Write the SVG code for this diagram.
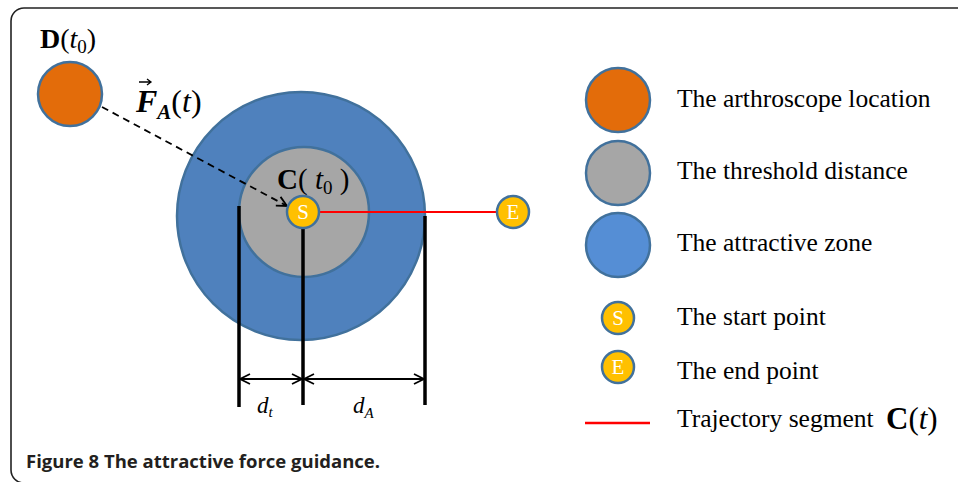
<svg xmlns="http://www.w3.org/2000/svg" width="958" height="482" viewBox="0 0 958 482">
<defs>
<style>
.serif{font-family:"Liberation Serif","Times New Roman",serif;fill:#000}
.leg{font-size:25.5px}
.node{stroke:#41719C;stroke-width:2.5}
.pt{fill:#FFC000;stroke:#41719C;stroke-width:2.5}
.ptxt{font-family:"Liberation Serif",serif;font-size:21px;fill:#fff;text-anchor:middle}
.vline{stroke:#000;stroke-width:3.5}
.dim{stroke:#000;stroke-width:1.8;fill:none}
</style>
<marker id="open" viewBox="0 0 12 12" refX="11" refY="6" markerWidth="12" markerHeight="12" markerUnits="userSpaceOnUse" orient="auto-start-reverse">
<path d="M1,1 L11,6 L1,11" fill="none" stroke="#000" stroke-width="1.8"/>
</marker>
</defs>
<rect width="958" height="482" fill="#fff"/>
<rect x="11" y="8" width="980" height="475" rx="13" ry="13" fill="none" stroke="#222" stroke-width="1.6"/>

<g id="zone">
<circle cx="301" cy="216" r="124" fill="#4F81BD" stroke="#41719C" stroke-width="2.5"/>
</g>
<g id="threshold">
<circle cx="304" cy="212" r="65" fill="#A6A6A6" stroke="#41719C" stroke-width="2.5"/>
</g>
<g id="D">
<circle cx="70" cy="94" r="32" fill="#E36C0A" class="node"/>
<text class="serif" x="40" y="48" font-size="28"><tspan font-weight="bold">D</tspan>(<tspan font-style="italic">t</tspan><tspan font-size="19" dy="5">0</tspan><tspan dy="-5">)</tspan></text>
</g>

<g id="connectors">
<line x1="102" y1="107" x2="287" y2="206" stroke="#000" stroke-width="1.8" stroke-dasharray="7,5" marker-end="url(#open)"/>
<line x1="319" y1="212" x2="497" y2="212" stroke="#FF0000" stroke-width="2"/>
<line class="vline" x1="239" y1="206" x2="239" y2="407"/>
<line class="vline" x1="303" y1="228" x2="303" y2="405"/>
<line class="vline" x1="425" y1="216" x2="425" y2="405"/>
<line class="dim" x1="240" y1="379" x2="302" y2="379" marker-start="url(#open)" marker-end="url(#open)"/>
<line class="dim" x1="304" y1="379" x2="424" y2="379" marker-start="url(#open)" marker-end="url(#open)"/>
</g>

<g id="labels">
<text class="serif" x="136" y="112" font-size="32"><tspan font-weight="bold" font-style="italic">F</tspan><tspan font-size="21" font-weight="bold" font-style="italic" dy="7">A</tspan><tspan dy="-7">(</tspan><tspan font-style="italic">t</tspan>)</text>
<path d="M139,82 H151 M147,79 L151,82 L147,85" fill="none" stroke="#000" stroke-width="1.3"/>
<text class="serif" x="277" y="189" font-size="29"><tspan font-weight="bold">C</tspan>( <tspan font-style="italic">t</tspan><tspan font-size="19" dy="5">0</tspan><tspan dy="-5"> )</tspan></text>
<text class="serif" x="257" y="413" font-size="23" font-style="italic">d<tspan font-size="15" dy="4">t</tspan></text>
<text class="serif" x="353" y="413" font-size="23" font-style="italic">d<tspan font-size="15" dy="5">A</tspan></text>
</g>

<g id="S">
<circle class="pt" cx="303" cy="212" r="16"/>
<text class="ptxt" x="303" y="219">S</text>
</g>
<g id="E">
<circle class="pt" cx="513" cy="212" r="16"/>
<text class="ptxt" x="513" y="219">E</text>
</g>

<g id="legend">
<circle cx="618" cy="100" r="32" fill="#E36C0A" class="node"/>
<text class="serif leg" x="677" y="107">The arthroscope location</text>
<circle cx="618" cy="173" r="32" fill="#A6A6A6" class="node"/>
<text class="serif leg" x="677" y="179">The threshold distance</text>
<circle cx="618" cy="245" r="32" fill="#558ED5" class="node"/>
<text class="serif leg" x="677" y="251">The attractive zone</text>
<circle class="pt" cx="618" cy="318" r="16"/>
<text class="ptxt" x="618" y="325">S</text>
<text class="serif leg" x="677" y="325">The start point</text>
<circle class="pt" cx="618" cy="367" r="16"/>
<text class="ptxt" x="618" y="374">E</text>
<text class="serif leg" x="677" y="379">The end point</text>
<line x1="585" y1="423" x2="650" y2="423" stroke="#FF0000" stroke-width="2.5"/>
<text class="serif leg" x="677" y="427">Trajectory segment</text>
<text class="serif" x="886" y="429" font-size="31"><tspan font-weight="bold">C</tspan>(<tspan font-style="italic">t</tspan>)</text>
</g>

<text x="26" y="468" font-family="'Open Sans','Noto Sans',sans-serif" font-weight="bold" font-size="18.5" fill="#231F20">Figure 8 The attractive force guidance.</text>
</svg>
